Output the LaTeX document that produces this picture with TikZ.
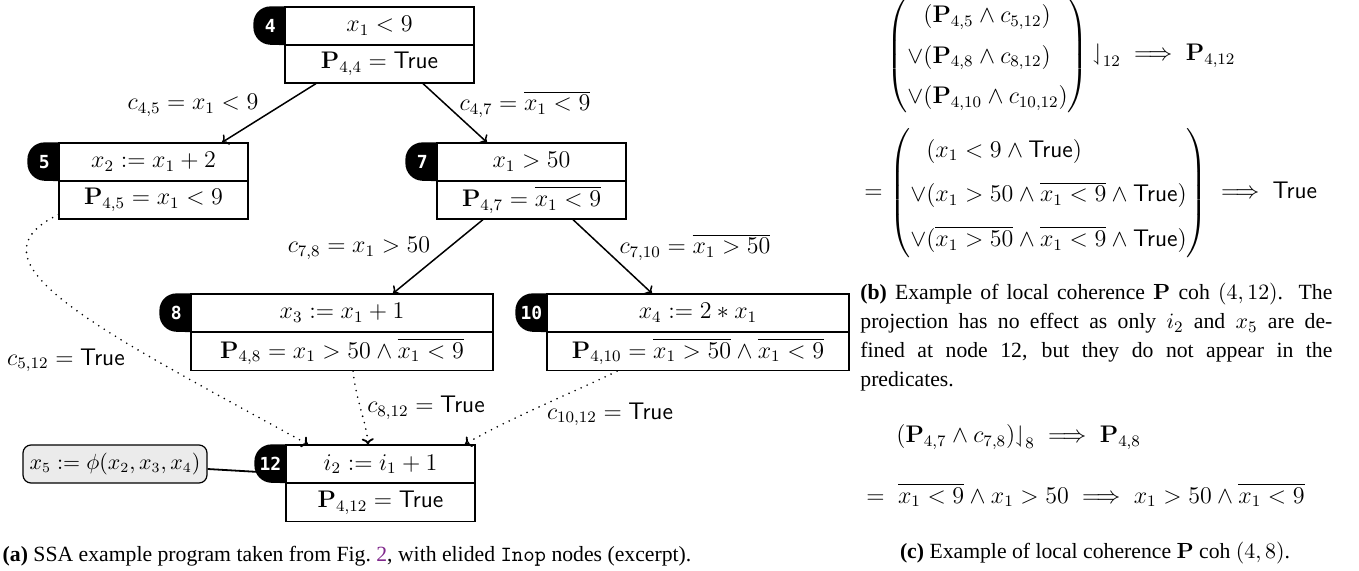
\documentclass[tikz,border=0pt]{standalone}
\usepackage{amsmath,amssymb}
\usepackage[no-math]{fontspec}
\setmainfont{Liberation Serif}
\newfontfamily\tabfont{DejaVu Sans Mono}
\usetikzlibrary{arrows.meta,backgrounds}
\definecolor{acmpurple}{RGB}{128,40,140}
\definecolor{phigray}{gray}{0.92}
\newcommand{\msz}{\fontsize{12}{14}\selectfont}
\newcommand{\csz}{\fontsize{10.85}{14.5}\selectfont}
\newcommand{\Tr}{\mathsf{True}}
\newcommand{\ov}[1]{\overline{#1}}
\begin{document}
\begin{tikzpicture}[x=0.5pt,y=-0.5pt,
  boxrow/.style={draw, fill=white, line width=0.6pt, minimum width=#1, minimum height=19pt, inner sep=0pt, font=\msz},
  tabfill/.style={fill=black, rounded corners=8.5pt},
  tablabel/.style={text=white, font=\tabfont\bfseries\fontsize{9}{10}\selectfont, inner sep=0pt},
  flow/.style={line width=0.75pt, -{To[length=3pt,width=6pt]}},
  dotflow/.style={line width=0.9pt, dash pattern=on 0pt off 3.3pt, line cap=round, -{To[length=3pt,width=6pt]}},
  elabel/.style={font=\msz, inner sep=0pt, anchor=base},
  capt/.style={font=\csz, inner sep=0pt},
  eqn/.style={font=\msz, inner sep=0pt, anchor=west},
]
\useasboundingbox (0,0) rectangle (1359,571);

% ---- boxes ----
\node[boxrow=94.5pt] (n4t) at (379.5,26) {$x_1 < 9$};
\node[boxrow=94.5pt] (n4b) at (379.5,64) {$\mathbf{P}_{4,4} = \Tr$};
\node[boxrow=94.5pt] (n5t) at (153.5,162) {$x_2 := x_1 + 2$};
\node[boxrow=94.5pt] (n5b) at (153.5,200) {$\mathbf{P}_{4,5} = x_1 < 9$};
\node[boxrow=94.5pt] (n7t) at (531.5,162) {$x_1 > 50$};
\node[boxrow=94.5pt] (n7b) at (531.5,200) {$\mathbf{P}_{4,7} = \ov{x_1 < 9}$};
\node[boxrow=151pt] (n8t) at (342,313) {$x_3 := x_1 + 1$};
\node[boxrow=151pt] (n8b) at (342,351.5) {$\mathbf{P}_{4,8} = x_1 > 50 \wedge \ov{x_1 < 9}$};
\node[boxrow=151pt] (n10t) at (698,313) {$x_4 := 2 \ast x_1$};
\node[boxrow=151pt] (n10b) at (698,351.5) {$\mathbf{P}_{4,10} = \ov{x_1 > 50} \wedge \ov{x_1 < 9}$};
\node[boxrow=94.5pt] (n12t) at (380.5,464) {$i_2 := i_1 + 1$};
\node[boxrow=94.5pt] (n12b) at (380.5,502.5) {$\mathbf{P}_{4,12} = \Tr$};

\node[draw, fill=phigray, rounded corners=4pt, line width=0.6pt, minimum width=92pt, minimum height=19pt, inner sep=0pt, font=\fontsize{10.5}{12}\selectfont] (phi) at (115,464) {$x_5 := \phi(x_2, x_3, x_4)$};

% ---- tabs ----
\begin{scope}[on background layer]
\foreach \n in {4,5,7,8,10,12}{
  \fill[tabfill] ([xshift=10pt]n\n t.north west) -- ++(-25.5pt,0pt) -- ++(0pt,-19pt) -- ([xshift=10pt]n\n t.south west) -- cycle;
}
\end{scope}
\node[tablabel] (t4) at ([xshift=-7pt]n4t.west) {4};
\node[tablabel] (t5) at ([xshift=-7pt]n5t.west) {5};
\node[tablabel] (t7) at ([xshift=-7pt]n7t.west) {7};
\node[tablabel] (t8) at ([xshift=-7pt]n8t.west) {8};
\node[tablabel] (t10) at ([xshift=-7.5pt]n10t.west) {10};
\node[tablabel] (t12) at ([xshift=-7.5pt]n12t.west) {12};

\draw[line width=0.9pt] ([yshift=-2.5pt]phi.east) -- ([yshift=-4pt]t12.west);

% ---- edges ----
\draw[flow] ([xshift=-31.75pt]n4b.south) -- ([xshift=34.25pt]n5t.north);
\draw[flow] ([xshift=21.75pt]n4b.south) -- ([xshift=-22.25pt]n7t.north);
\draw[flow] ([xshift=-24.25pt]n7b.south) -- ([xshift=25.5pt]n8t.north);
\draw[flow] ([xshift=20.75pt]n7b.south) -- ([xshift=-23pt]n10t.north);

\draw[dotflow] ([yshift=2.5pt]n5b.south west) .. controls (-40,262) and (100,330) .. ([xshift=-36.25pt]n12t.north);
\draw[dotflow] ([xshift=5.5pt]n8b.south) .. controls (356,400) and (367,425) .. ([xshift=-6.25pt]n12t.north);
\draw[dotflow] ([xshift=-40.5pt]n10b.south) .. controls (590,385) and (505,420) .. ([xshift=42.25pt]n12t.north);

% ---- edge labels ----
\node[elabel] (l45) at (193,110) {$c_{4,5} = x_1 < 9$};
\node[elabel] (l47) at (525,111) {$c_{4,7} = \ov{x_1 < 9}$};
\node[elabel] (l78) at (359,253) {$c_{7,8} = x_1 > 50$};
\node[elabel] (l710) at (695,254) {$c_{7,10} = \ov{x_1 > 50}$};
\node[elabel] (l512) at (66,365) {$c_{5,12} = \Tr$};
\node[elabel] (l812) at (426,413) {$c_{8,12} = \Tr$};
\node[elabel] (l1012) at (610,419) {$c_{10,12} = \Tr$};

% ---- captions ----
\node[capt] (capa) at (347,556) {\textbf{(a)} SSA example program taken from Fig.~{\color{acmpurple}2}, with elided \texttt{Inop} nodes (excerpt).};
\node[capt, anchor=north west, text width=236pt, align=justify] (capb) at (860,283) {\textbf{(b)} Example of local coherence $\mathbf{P}$ coh $(4,12)$. The\linebreak projection has no effect as only $i_2$ and $x_5$ are de-\linebreak fined at node 12, but they do not appear in the\linebreak predicates.};
\node[capt] (capc) at (1095,553) {\textbf{(c)} Example of local coherence $\mathbf{P}$ coh $(4,8)$.};

% ---- equations ----
\node[eqn] (eqa) at (886,55) {\renewcommand\arraystretch{1.45}$\left(\begin{array}{@{}l@{}}\hphantom{\vee}(\mathbf{P}_{4,5} \wedge c_{5,12})\\ {\vee}(\mathbf{P}_{4,8} \wedge c_{8,12})\\ {\vee}(\mathbf{P}_{4,10} \wedge c_{10,12})\end{array}\right){\downharpoonleft}_{12} \implies \mathbf{P}_{4,12}$};
\node[eqn] (eqb) at (864,193) {\renewcommand\arraystretch{1.6}$=\left(\begin{array}{@{}l@{}}\hphantom{\vee}(x_1 < 9 \wedge \Tr)\\ {\vee}(x_1 > 50 \wedge \ov{x_1 < 9} \wedge \Tr)\\ {\vee}(\ov{x_1 > 50} \wedge \ov{x_1 < 9} \wedge \Tr)\end{array}\right) \implies \Tr$};
\node[eqn] (eqc) at (896,437) {$(\mathbf{P}_{4,7} \wedge c_{7,8}){\downharpoonleft}_{8} \implies \mathbf{P}_{4,8}$};
\node[eqn] (eqd) at (866,495) {$=\;\ov{x_1 < 9} \wedge x_1 > 50 \implies x_1 > 50 \wedge \ov{x_1 < 9}$};
\end{tikzpicture}
\end{document}
